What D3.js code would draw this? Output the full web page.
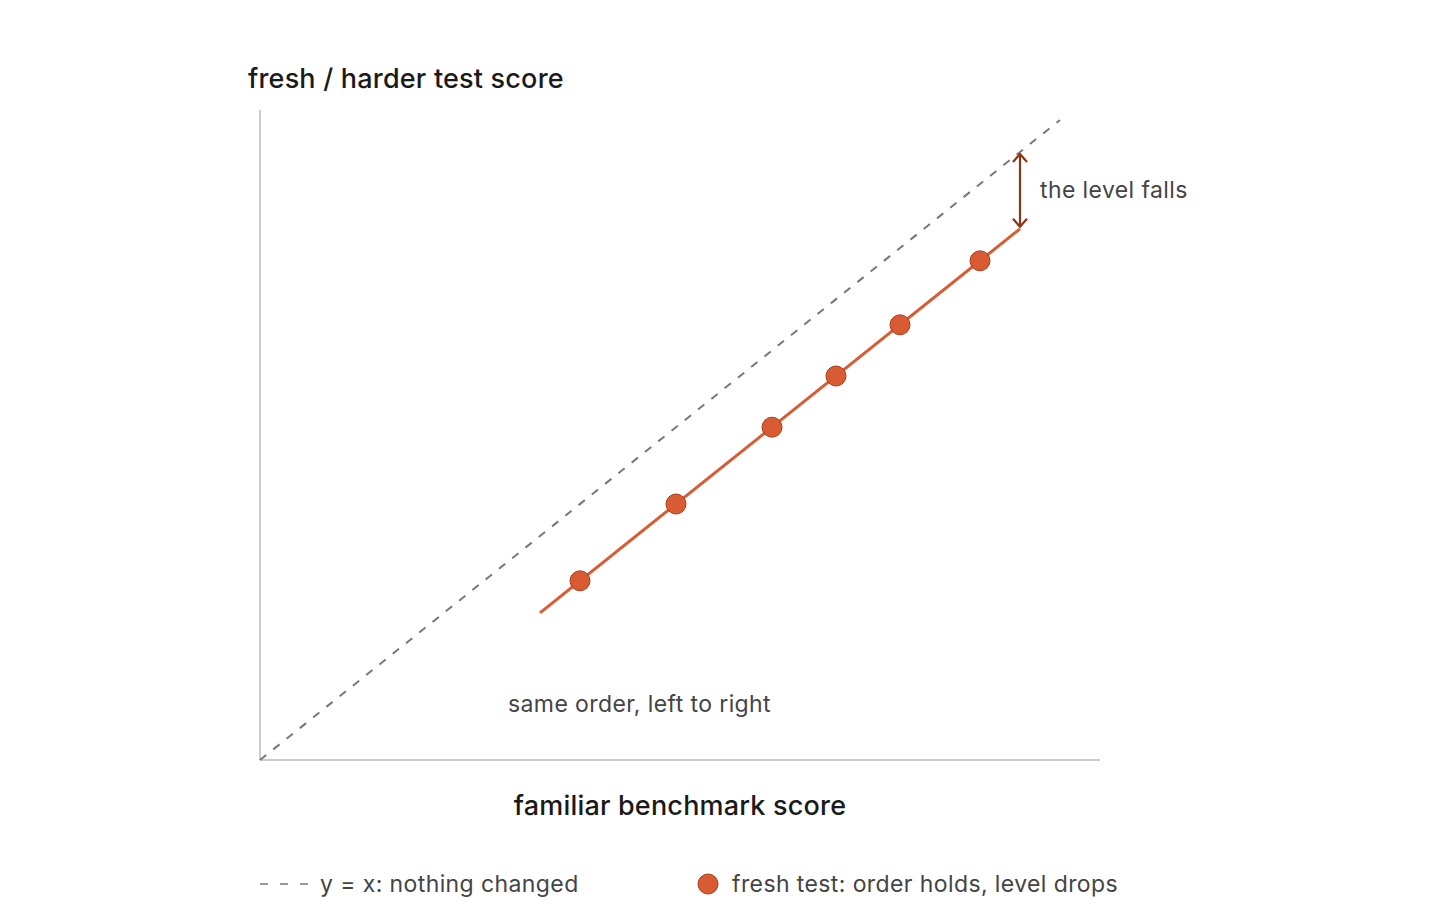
<!DOCTYPE html>
<html lang="en">
<head>
  <meta charset="UTF-8">
  <script src="https://d3js.org/d3.v7.min.js"></script>
  <title>Fresh test vs familiar benchmark</title>
  <style>
    body { margin: 0; background: #fff; }
    svg text { font-family: Inter, "Noto Sans", sans-serif; }
  </style>
</head>
<body>
  <svg id="chart" width="1440" height="924"></svg>
  <script>
    // scores on a 0..1 scale
    const familiar = [0.40, 0.52, 0.64, 0.72, 0.80, 0.90];
    const fresh    = [0.28, 0.40, 0.52, 0.60, 0.68, 0.78];
    const fitLine  = [[0.35, 0.23], [0.95, 0.83]];
    const identity = [[0, 0], [1, 1]];
    const drop     = { x: 0.95, from: 0.95, to: 0.83 };

    const orange = '#d95b33';
    const svg = d3.select('#chart');

    const x = d3.scaleLinear().domain([0, 1]).range([260, 1060]);
    const y = d3.scaleLinear().domain([0, 1]).range([760, 120]);

    const defs = svg.append('defs');
    defs.append('marker')
      .attr('id', 'head')
      .attr('viewBox', '0 0 16 16')
      .attr('refX', 15).attr('refY', 8)
      .attr('markerWidth', 16).attr('markerHeight', 16)
      .attr('markerUnits', 'userSpaceOnUse')
      .attr('orient', 'auto-start-reverse')
      .append('path')
      .attr('d', 'M7,1 L15,8 L7,15')
      .attr('fill', 'none')
      .attr('stroke', '#8e3517')
      .attr('stroke-width', 2.2);

    // axes: plain lines, no ticks
    svg.append('line')
      .attr('x1', x(0)).attr('x2', x(1.05))
      .attr('y1', y(0)).attr('y2', y(0))
      .attr('stroke', '#bbb').attr('stroke-width', 1.5);
    svg.append('line')
      .attr('x1', x(0)).attr('x2', x(0))
      .attr('y1', y(0)).attr('y2', y(1.016))
      .attr('stroke', '#bbb').attr('stroke-width', 1.5);

    const line = d3.line().x(d => x(d[0])).y(d => y(d[1]));

    svg.append('path')
      .attr('d', line(identity))
      .attr('fill', 'none')
      .attr('stroke', '#777')
      .attr('stroke-width', 2)
      .attr('stroke-dasharray', '8,9');

    svg.append('path')
      .attr('d', line(fitLine))
      .attr('fill', 'none')
      .attr('stroke', orange)
      .attr('stroke-width', 3);

    svg.selectAll('circle.pt')
      .data(familiar)
      .enter()
      .append('circle')
      .attr('class', 'pt')
      .attr('cx', d => x(d))
      .attr('cy', (d, i) => y(fresh[i]))
      .attr('r', 10)
      .attr('fill', orange)
      .attr('stroke', '#a8401f')
      .attr('stroke-width', 1);

    // drop arrow
    svg.append('line')
      .attr('x1', x(drop.x)).attr('x2', x(drop.x))
      .attr('y1', y(drop.from) + 2).attr('y2', y(drop.to) - 2)
      .attr('stroke', '#8e3517')
      .attr('stroke-width', 2.2)
      .attr('marker-start', 'url(#head)')
      .attr('marker-end', 'url(#head)');

    const note = (sel) => sel
      .attr('font-size', 23).attr('letter-spacing', 0.4).attr('fill', '#444');

    svg.append('text')
      .attr('x', 1040).attr('y', 198)
      .call(note)
      .text('the level falls');

    svg.append('text')
      .attr('x', 508).attr('y', 712)
      .call(note)
      .text('same order, left to right');

    // axis titles
    svg.append('text')
      .attr('x', 248).attr('y', 88)
      .attr('font-size', 27).attr('letter-spacing', 0.2)
      .attr('font-weight', 500).attr('fill', '#1a1a1a')
      .text('fresh / harder test score');

    svg.append('text')
      .attr('x', 680).attr('y', 815)
      .attr('text-anchor', 'middle')
      .attr('font-size', 27).attr('letter-spacing', 0.2)
      .attr('font-weight', 500).attr('fill', '#1a1a1a')
      .text('familiar benchmark score');

    // legend
    const leg = svg.append('g').attr('transform', 'translate(0,884)');
    leg.append('line')
      .attr('x1', 260).attr('x2', 308)
      .attr('stroke', '#777').attr('stroke-width', 1.5)
      .attr('stroke-dasharray', '8,12');
    leg.append('text')
      .attr('x', 320).attr('y', 8)
      .call(note)
      .text('y = x: nothing changed');
    leg.append('circle')
      .attr('cx', 708).attr('cy', 0).attr('r', 10)
      .attr('fill', orange).attr('stroke', '#a8401f').attr('stroke-width', 1);
    leg.append('text')
      .attr('x', 732).attr('y', 8)
      .call(note)
      .text('fresh test: order holds, level drops');
  </script>
</body>
</html>
